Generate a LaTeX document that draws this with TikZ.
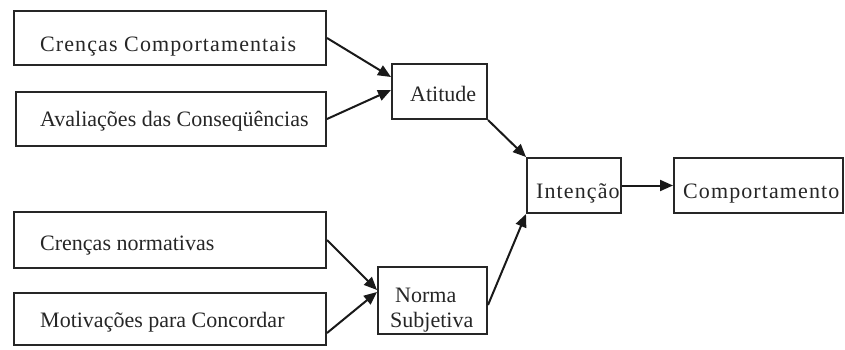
\documentclass[tikz,border=0pt]{standalone}
\usepackage{fontspec}
\setmainfont{Liberation Serif}
\usetikzlibrary{arrows.meta}
\begin{document}
\begin{tikzpicture}[x=1pt,y=-1pt,
  box/.style={draw=black!85,line width=2pt,rectangle,inner sep=0pt},
  lbl/.style={inner sep=0pt,anchor=base west,font=\fontsize{22}{24}\selectfont,text=black!85},
  spaced/.style={font=\fontsize{22}{24}\selectfont\addfontfeature{LetterSpace=5}},
  conn/.style={line width=2pt,draw=black!90,-{Triangle[length=13pt,width=11pt]}}]
\useasboundingbox (0,0) rectangle (845,350);
\node[box,minimum width=312pt,minimum height=54pt] (b1) at (170,38) {};
\node[box,minimum width=310pt,minimum height=54pt] (b2) at (171,119) {};
\node[box,minimum width=312pt,minimum height=56pt] (b3) at (170,240) {};
\node[box,minimum width=312pt,minimum height=52pt] (b4) at (170,319) {};
\node[box,minimum width=95pt,minimum height=55pt] (att) at (439.5,91.5) {};
\node[box,minimum width=94pt,minimum height=55pt] (int) at (574,185.5) {};
\node[box,minimum width=169pt,minimum height=55pt] (comp) at (758.5,185.5) {};
\node[box,minimum width=109pt,minimum height=67pt] (norm) at (432.5,300.5) {};
\node[lbl,spaced] (t1) at (40,52) {Crenças Comportamentais};
\node[lbl] (t2) at (40,127) {Avaliações das Conseqüências};
\node[lbl] (t3) at (40,250) {Crenças normativas};
\node[lbl] (t4) at (40,327) {Motivações para Concordar};
\node[lbl] (t5) at (410,102) {Atitude};
\node[lbl,spaced] (t6) at (536,198) {Intenção};
\node[lbl,spaced] (t7) at (683,198) {Comportamento};
\node[lbl] (t8) at (395,302) {Norma};
\node[lbl] (t9) at (390,327) {Subjetiva};
\draw[conn] (b1.east) -- ([yshift=14.5pt]att.west);
\draw[conn] (b2.east) -- ([yshift=1.5pt]att.west);
\draw[conn] (att.south east) -- (int.north west);
\draw[conn] (int.east) -- (comp.west);
\draw[conn] ([yshift=-4.5pt]norm.east) -- (int.south west);
\draw[conn] (b3.east) -- ([yshift=10.5pt]norm.west);
\draw[conn] ([yshift=-14pt]b4.east) -- ([yshift=8.5pt]norm.west);
\end{tikzpicture}
\end{document}
